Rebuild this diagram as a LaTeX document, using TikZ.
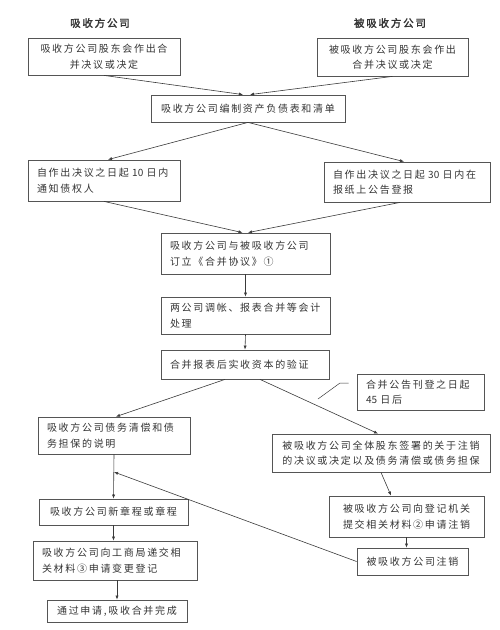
\documentclass[tikz,border=0pt]{standalone}
\usepackage{fontspec}
\setmainfont{Noto Sans CJK SC}[LetterSpace=17,AutoFakeBold=2]
\usetikzlibrary{arrows.meta,calc}
\definecolor{boxc}{HTML}{555555}
\definecolor{linec}{HTML}{3A3A3A}
\definecolor{txtc}{HTML}{333333}
\newcommand{\nls}[1]{{\addfontfeature{LetterSpace=0}#1}}
\tikzset{
  boxl/.style={draw=boxc, line width=0.8pt, text=txtc, inner xsep=9pt, inner ysep=0pt, align=left, font=\fontsize{10}{15.5}\selectfont, anchor=center},
  boxc/.style={boxl, align=center},
  arr/.style={draw=linec, line width=0.6pt, -{Latex[length=4pt,width=3.2pt]}},
  ttl/.style={text=txtc, font=\fontsize{10.5}{12}\selectfont\bfseries},
}
\begin{document}
\begin{tikzpicture}[x=1pt,y=-1pt]
\useasboundingbox (0,0) rectangle (500,630);
% titles
\node[ttl] (t1) at (100,23) {吸收方公司};
\node[ttl] (t2) at (390,23) {被吸收方公司};
% boxes
\node[boxc, text width=134pt, minimum height=37pt] (A1) at (104,56.5) {吸收方公司股东会作出合\\并决议或决定};
\node[boxc, text width=133pt, minimum height=38pt] (B1) at (392.5,57) {被吸收方公司股东会作出\\合并决议或决定};
\node[boxc, text width=176pt, minimum height=27pt] (C) at (248,108.5) {吸收方公司编制资产负债表和清单};
\node[boxl, text width=134pt, minimum height=41pt] (D1) at (104,180.5) {自作出决议之日起 \nls{10} 日内\\通知债权人};
\node[boxl, text width=148pt, minimum height=40pt] (D2) at (407,182) {自作出决议之日起 \nls{30} 日内在\\报纸上公告登报};
\node[boxl, text width=151pt, minimum height=41pt] (E) at (245.5,253.5) {吸收方公司与被吸收方公司\\订立《合并协议》①};
\node[boxl, text width=151pt, minimum height=37pt] (F) at (245.5,315.5) {两公司调帐、报表合并等会计\\处理};
\node[boxl, text width=150pt, minimum height=29pt] (G) at (245,364.5) {合并报表后实收资本的验证};
\node[boxl, text width=109pt, minimum height=36pt] (Nt) at (420.5,392) {合并公告刊登之日起\\\nls{45} 日后};
\node[boxl, text width=134pt, minimum height=37pt] (H) at (114,435.5) {吸收方公司债务清偿和债\\务担保的说明};
\node[boxc, text width=200pt, minimum height=38pt] (I) at (381,453) {被吸收方公司全体股东签署的关于注销\\的决议或决定以及债务清偿或债务担保};
\node[boxc, text width=131pt, minimum height=26pt] (J) at (113.5,512) {吸收方公司新章程或章程};
\node[boxl, text width=146pt, minimum height=39pt] (K) at (115,560.5) {吸收方公司向工商局递交相\\关材料③申请变更登记};
\node[boxc, text width=122pt, minimum height=22pt] (L) at (117,611) {通过申请,吸收合并完成};
\node[boxc, text width=137pt, minimum height=41pt] (M) at (406.5,516.5) {被吸收方公司向登记机关\\提交相关材料②申请注销};
\node[boxc, text width=93pt, minimum height=27pt] (N) at (412.5,561.5) {被吸收方公司注销};
% connectors
\draw[arr] (A1.south) -- ($(C.north)+(-5,0)$);
\draw[arr] (B1.south) -- ($(C.north)+(2,0)$);
\draw[arr] (C.south) -- ($(D1.north)+(4,0)$);
\draw[arr] (C.south) -- ($(D2.north)+(-3,0)$);
\draw[arr] (D1.south) -- ($(E.north)+(-3,0)$);
\draw[arr] ($(D2.south)+(-7,0)$) -- ($(E.north)+(2.5,0)$);
\draw[arr] (E.south) -- (F.north);
\draw[arr] (F.south) -- (G.north);
\draw[arr] ($(G.south)+(-20,0)$) -- ($(H.north)+(2,0)$);
\draw[arr] ($(G.south)+(15,0)$) -- ($(I.north)+(-3,0)$);
\coordinate (ld) at (318,399);
\draw[draw=linec, line width=0.5pt] (ld) -- (340,383) -- ($(Nt.west)+(-8,-9)$);
\draw[arr] (H.south) -- (J.north);
\draw[arr] (J.south) -- (J.south |- K.north);
\draw[arr] ($(K.south)+(2,0)$) -- (L.north);
\draw[arr] (I.south) -- ($(M.north)+(-15.5,0)$);
\draw[arr] (M.south) -- (M.south |- N.north);
\coordinate (hj) at (114,472);
\draw[arr] (N.west) -- (hj);
\end{tikzpicture}
\end{document}
